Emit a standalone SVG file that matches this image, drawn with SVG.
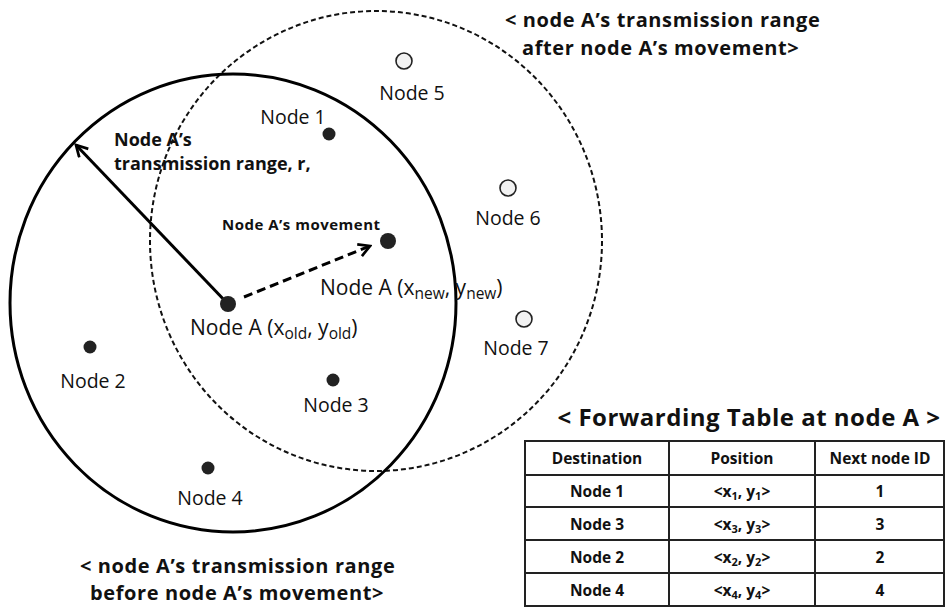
<svg xmlns="http://www.w3.org/2000/svg" width="946" height="608" viewBox="0 0 946 608">
<defs>
<marker id="vhead" viewBox="0 0 12 12" refX="10" refY="6" markerWidth="5" markerHeight="5" orient="auto" markerUnits="strokeWidth">
<path d="M1,1 L10,6 L1,11" fill="none" stroke="#000" stroke-width="2.2"/>
</marker>
</defs>
<style>
text{font-family:"Open Sans","Noto Sans","DejaVu Sans",sans-serif;fill:#111}
.lbl{font-size:19.5px}
.alab{font-size:21px}
.b{font-weight:bold}
.t{font-size:20px;font-weight:bold;letter-spacing:0.6px}
.dot{fill:#222}
.open{fill:#f2f2f2;stroke:#222;stroke-width:1.6}
.th{font-size:15.5px;font-weight:bold;text-anchor:middle}
.grid{stroke:#222;stroke-width:2;fill:none}
</style>
<rect width="946" height="608" fill="#fff"/>
<g id="ranges">
<ellipse id="range-after" cx="376" cy="241" rx="226" ry="230" fill="none" stroke="#111" stroke-width="2" stroke-dasharray="5,3"/>
<ellipse id="range-before" cx="233" cy="303" rx="223" ry="229" fill="none" stroke="#000" stroke-width="3"/>
</g>
<g id="connectors">
<line x1="228" y1="304" x2="76" y2="145" stroke="#000" stroke-width="3" marker-end="url(#vhead)"/>
<line x1="244" y1="297" x2="370" y2="246" stroke="#000" stroke-width="3" stroke-dasharray="9,5" marker-end="url(#vhead)"/>
</g>
<g id="nodeA-old"><circle cx="228" cy="304" r="8" class="dot"/>
<text x="190" y="335" class="alab">Node A (x<tspan font-size="15.5" dy="4">old</tspan><tspan dy="-4">,  y</tspan><tspan font-size="15.5" dy="4">old</tspan><tspan dy="-4">)</tspan></text></g>
<g id="nodeA-new"><circle cx="388" cy="241" r="8" class="dot"/>
<text x="320" y="295" class="alab">Node A (x<tspan font-size="15.5" dy="4">new</tspan><tspan dy="-4">,  y</tspan><tspan font-size="15.5" dy="4">new</tspan><tspan dy="-4">)</tspan></text></g>
<g id="label-movement"><text x="222" y="230" font-size="15" class="b" letter-spacing="0.5">Node A’s movement</text></g>
<g id="label-range"><text x="114" y="146" font-size="18" class="b">Node A’s</text><text x="114" y="170" font-size="18" class="b">transmission range, r,</text></g>
<g id="node1"><circle cx="329" cy="134" r="6.5" class="dot"/><text x="293" y="124" class="lbl" text-anchor="middle">Node 1</text></g>
<g id="node2"><circle cx="90" cy="347" r="6.5" class="dot"/><text x="93" y="388" class="lbl" text-anchor="middle">Node 2</text></g>
<g id="node3"><circle cx="333" cy="380" r="6.5" class="dot"/><text x="336" y="412" class="lbl" text-anchor="middle">Node 3</text></g>
<g id="node4"><circle cx="208" cy="468" r="6.5" class="dot"/><text x="210" y="505" class="lbl" text-anchor="middle">Node 4</text></g>
<g id="node5"><circle cx="404" cy="61" r="8" class="open"/><text x="412" y="100" class="lbl" text-anchor="middle">Node 5</text></g>
<g id="node6"><circle cx="508" cy="188" r="8" class="open"/><text x="508" y="225" class="lbl" text-anchor="middle">Node 6</text></g>
<g id="node7"><circle cx="524" cy="319" r="8" class="open"/><text x="516" y="355" class="lbl" text-anchor="middle">Node 7</text></g>
<g id="title-after"><text x="505" y="27" class="t">&lt; node A’s transmission range</text><text x="522" y="55" class="t">after node A’s movement&gt;</text></g>
<g id="title-before"><text x="80" y="573" class="t">&lt; node A’s transmission range</text><text x="90" y="600" class="t">before node A’s movement&gt;</text></g>
<g id="forwarding-table">
<text x="749" y="426" font-size="24" class="b" text-anchor="middle" letter-spacing="0.5">&lt; Forwarding Table at node A &gt;</text>
<rect x="525" y="441" width="419" height="165" class="grid"/>
<line x1="525" y1="475" x2="944" y2="475" class="grid"/>
<line x1="525" y1="507" x2="944" y2="507" class="grid"/>
<line x1="525" y1="540" x2="944" y2="540" class="grid"/>
<line x1="525" y1="573" x2="944" y2="573" class="grid"/>
<line x1="669" y1="441" x2="669" y2="606" class="grid"/>
<line x1="815" y1="441" x2="815" y2="606" class="grid"/>
<text x="597" y="464" class="th">Destination</text><text x="742" y="464" class="th">Position</text><text x="880" y="464" class="th">Next node ID</text>
<text x="597" y="497" class="th">Node 1</text><text x="742" y="497" class="th">&lt;x<tspan font-size="11" dy="3">1</tspan><tspan dy="-3">, y</tspan><tspan font-size="11" dy="3">1</tspan><tspan dy="-3">&gt;</tspan></text><text x="880" y="497" class="th">1</text>
<text x="597" y="530" class="th">Node 3</text><text x="742" y="530" class="th">&lt;x<tspan font-size="11" dy="3">3</tspan><tspan dy="-3">, y</tspan><tspan font-size="11" dy="3">3</tspan><tspan dy="-3">&gt;</tspan></text><text x="880" y="530" class="th">3</text>
<text x="597" y="563" class="th">Node 2</text><text x="742" y="563" class="th">&lt;x<tspan font-size="11" dy="3">2</tspan><tspan dy="-3">, y</tspan><tspan font-size="11" dy="3">2</tspan><tspan dy="-3">&gt;</tspan></text><text x="880" y="563" class="th">2</text>
<text x="597" y="596" class="th">Node 4</text><text x="742" y="596" class="th">&lt;x<tspan font-size="11" dy="3">4</tspan><tspan dy="-3">, y</tspan><tspan font-size="11" dy="3">4</tspan><tspan dy="-3">&gt;</tspan></text><text x="880" y="596" class="th">4</text>
</g>
</svg>
